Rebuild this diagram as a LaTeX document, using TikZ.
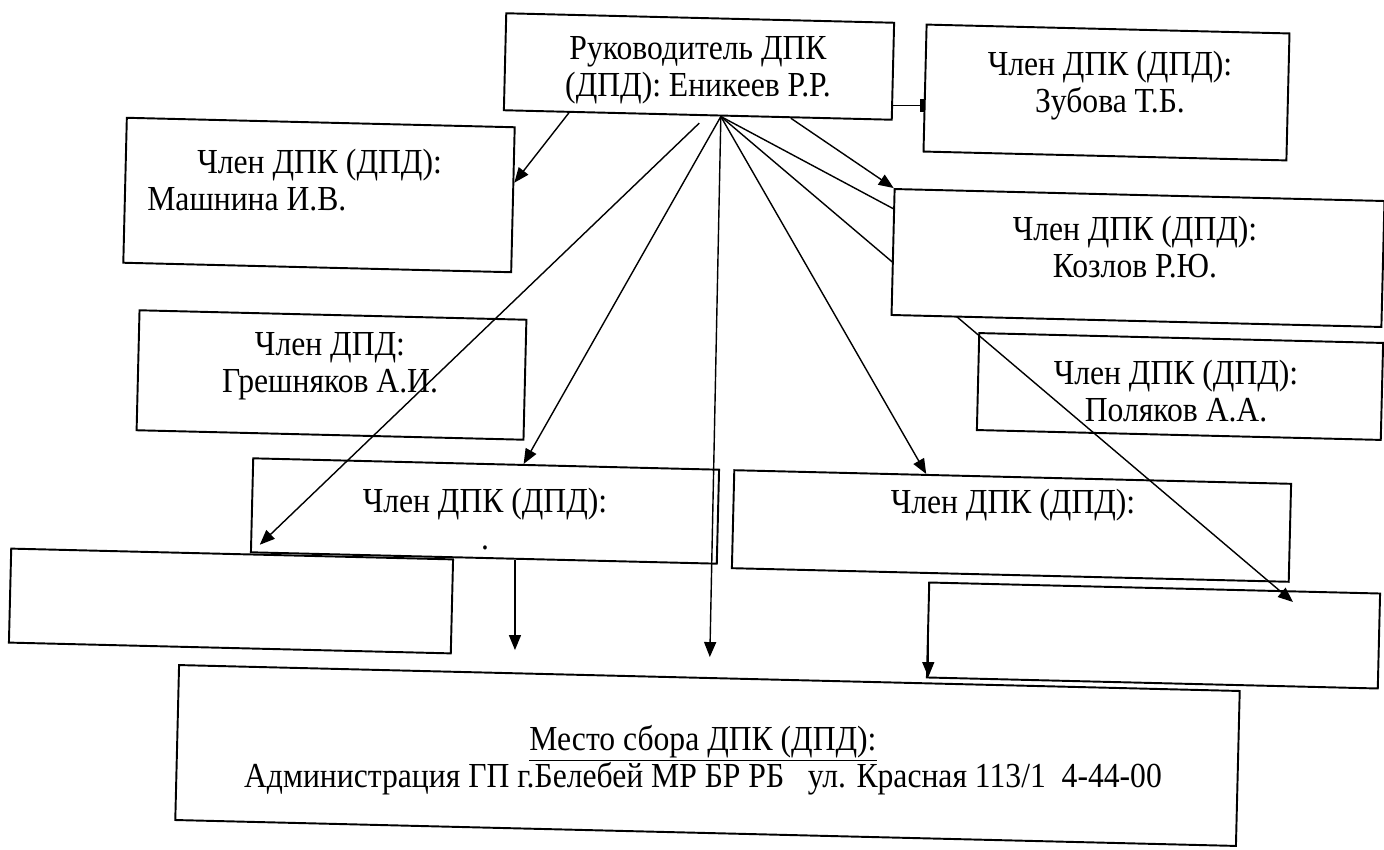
\documentclass[tikz,border=0pt]{standalone}
\usepackage{fontspec}
\setmainfont{Liberation Serif}[FakeStretch=0.9]
\usetikzlibrary{arrows.meta}
\pgfdeclarelayer{lines}
\pgfsetlayers{lines,main}

\begin{document}
\begin{tikzpicture}[
  x=0.2mm, y=-0.2mm,
  box/.style = {draw, line width=1.1pt, rotate=-1.4, inner sep=0pt},
  txt/.style = {align=center, inner sep=0pt},
  link/.style = {line width=0.8pt},
  arrow/.style = {line width=0.8pt, -{Triangle[length=3mm, width=2.4mm]}},
  every node/.style = {font=\fontsize{20}{21}\selectfont}
]
\useasboundingbox (0,0) rectangle (1384,850);

% Head of the team
\node[box, minimum width=7.76cm, minimum height=1.94cm] (lead) at (699,66.5) {};
\node[txt] (leadT) at (698,70) {Руководитель ДПК\\(ДПД): Еникеев Р.Р.};
\coordinate (hub) at (lead.-65);

% Members, upper part
\node[box, minimum width=7.26cm, minimum height=2.54cm] (zub) at (1106.5,92.5) {};
\node[txt] (zubT) at (1110,86) {Член ДПК (ДПД):\\Зубова Т.Б.};

\node[box, minimum width=7.76cm, minimum height=2.9cm] (mash) at (319,195) {};
\node[txt, align=left, anchor=west] (mashT) at (147,180) {\hspace*{1cm}Член ДПК (ДПД):\\Машнина И.В.};

\node[box, fill=white, minimum width=9.8cm, minimum height=2.52cm] (kozl) at (1138,258) {};
\node[txt] (kozlT) at (1135,247) {Член ДПК (ДПД):\\Козлов Р.Ю.};

\node[box, minimum width=8.08cm, minimum height=1.94cm] (pol) at (1180,386.5) {};
\node[txt] (polT) at (1176,391) {Член ДПК (ДПД):\\Поляков А.А.};

\node[box, minimum width=7.74cm, minimum height=2.4cm] (gresh) at (331.5,375) {};
\node[txt] (greshT) at (330,366) {Член ДПД:\\Грешняков А.И.};

% Members, lower part
\node[box, minimum width=9.32cm, minimum height=1.88cm] (m1) at (485,511) {};
\node[txt] (m1T) at (485,519) {Член ДПК (ДПД):\\.};

\node[box, minimum width=11.14cm, minimum height=1.96cm] (m2) at (1011.5,526) {};
\node[txt] (m2T) at (1013,505) {Член ДПК (ДПД):};

\node[box, minimum width=8.84cm, minimum height=1.88cm] (bl) at (231,601) {};
\node[box, minimum width=9.02cm, minimum height=1.9cm] (br) at (1153.5,635.5) {};
\coordinate (brtip) at (1293,602);

% Meeting point
\node[box, minimum width=21.22cm, minimum height=3.1cm] (place) at (707.5,755.5) {};
\node[txt] (placeT) at (703,760) {\underline{Место сбора ДПК (ДПД):}\\Администрация ГП г.Белебей МР БР РБ~~~ул. Красная 113/1~~4-44-00};

% Connectors
\begin{pgfonlayer}{lines}
\draw[arrow] (lead.201) -- (mash.5);
\draw[link, -{Rectangle[length=0.8mm, width=2.6mm]}] (lead.-10) -- (lead.-10 -| zub.west);
\draw[arrow] (lead.-28) -- (kozl.north west);
\draw[arrow, shorten <=2mm, shorten >=2.4mm] (lead.-80) -- (bl.north -| m1.west);
\draw[arrow] (hub) -- (m1.52);
\draw[arrow, shorten >=4mm] (hub) -- (place.north);
\draw[arrow] (hub) -- (m2.150);
\draw[link] (hub) -- (kozl.170);
\draw[arrow] (hub) -- (brtip);
\draw[arrow, shorten >=5.4mm] (m1.-57) -- (m1.-57 |- place.north);
\draw[arrow] (br.north west) -- (br.north west |- place.north);
\end{pgfonlayer}

\end{tikzpicture}
\end{document}
